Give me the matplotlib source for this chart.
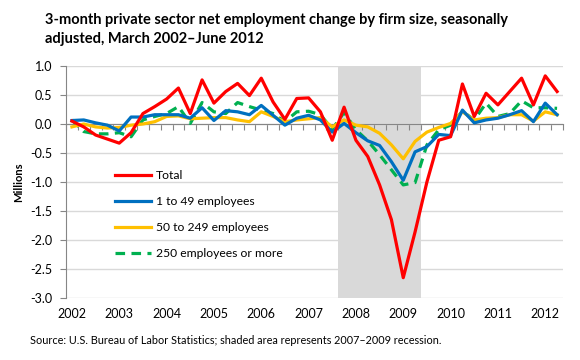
import numpy as np
import matplotlib.pyplot as plt

plt.rcParams['font.family'] = ['Lato', 'DejaVu Sans']

# Quarterly, March 2002 - June 2012 (millions)
total = [0.05, -0.05, -0.19, -0.26, -0.33, -0.15, 0.18, 0.30, 0.43, 0.62,
         0.18, 0.76, 0.36, 0.56, 0.70, 0.49, 0.79, 0.38, 0.08, 0.44,
         0.45, 0.21, -0.28, 0.29, -0.28, -0.56, -1.05, -1.65, -2.65, -1.86,
         -1.00, -0.28, -0.22, 0.69, 0.13, 0.53, 0.33, 0.56, 0.79, 0.33,
         0.83, 0.56]
small = [0.06, 0.07, 0.02, -0.02, -0.12, 0.12, 0.12, 0.16, 0.16, 0.16,
         0.10, 0.28, 0.06, 0.23, 0.21, 0.16, 0.32, 0.15, -0.02, 0.10,
         0.15, 0.07, -0.14, 0.01, -0.15, -0.29, -0.37, -0.65, -0.97, -0.48,
         -0.39, -0.18, -0.20, 0.24, 0.02, 0.07, 0.10, 0.16, 0.23, 0.04,
         0.36, 0.16]
medium = [-0.05, 0.00, -0.05, -0.07, -0.06, -0.02, 0.00, 0.04, 0.13, 0.14,
          0.09, 0.10, 0.11, 0.11, 0.07, 0.04, 0.21, 0.13, 0.04, 0.07,
          0.09, 0.11, -0.05, 0.07, -0.02, -0.05, -0.16, -0.36, -0.60, -0.30,
          -0.14, -0.06, 0.01, 0.21, 0.07, 0.10, 0.11, 0.16, 0.16, 0.05,
          0.21, 0.16]
large = [0.07, -0.13, -0.17, -0.17, -0.15, -0.22, 0.07, 0.13, 0.18, 0.30,
         0.01, 0.37, 0.21, 0.18, 0.37, 0.30, 0.24, 0.18, 0.04, 0.21,
         0.22, 0.16, -0.09, 0.20, -0.10, -0.29, -0.53, -0.79, -1.05, -1.01,
         -0.36, -0.10, -0.02, 0.22, 0.07, 0.36, 0.13, 0.18, 0.40, 0.28,
         0.28, 0.27]
years = [str(y) for y in range(2002, 2013)]
recession = (23, 29)  # quarter index, Dec 2007 - Jun 2009

x = np.arange(len(total))

fig = plt.figure(figsize=(5.8, 3.6), dpi=100)
ax = fig.add_axes([66 / 580, 1 - 298 / 360, 497 / 580, 232 / 360])

ax.axvspan(recession[0] - 0.5, recession[1] + 0.5, color='#d9d9d9', zorder=0, lw=0)
ax.plot(x, total, color='#ff0000', lw=2.3, label='Total', zorder=5)
ax.plot(x, small, color='#0070c0', lw=2.3, label='1 to 49 employees', zorder=4)
ax.plot(x, medium, color='#ffc000', lw=2.3, label='50 to 249 employees', zorder=3)
ax.plot(x, large, color='#00b050', lw=2.3, ls=(0, (3, 2)), label='250 employees or more', zorder=2)

ax.set_xlim(-0.5, len(total) - 0.5)
ax.set_ylim(-3.0, 1.0)
ax.set_yticks(np.arange(-3.0, 1.01, 0.5))
ax.set_yticklabels(['%.1f' % v for v in np.arange(-3.0, 1.01, 0.5)], fontsize=9)
ax.yaxis.grid(True, color='#d9d9d9', lw=1)
ax.set_axisbelow(True)

for s in ['top', 'right']:
    ax.spines[s].set_visible(False)
ax.spines['left'].set_color('#868686')
ax.spines['bottom'].set_position(('data', 0))
ax.spines['bottom'].set_color('#868686')
ax.spines['bottom'].set_zorder(1)
ax.set_xticks(np.arange(-0.5, len(total), 1))
ax.set_xticklabels([])
ax.tick_params(axis='x', direction='out', length=4, color='#868686')
ax.tick_params(axis='y', length=4, color='#868686', pad=6)

for k, yr in enumerate(years):
    ax.text(k * 4, -0.045, yr, transform=ax.get_xaxis_transform(),
            ha='center', va='top', fontsize=9)

ax.set_ylabel('Millions', fontsize=8, fontweight='bold', labelpad=4)

leg = ax.legend(loc='upper left', bbox_to_anchor=(49 / 497, (298 - 170) / 232),
                frameon=False, fontsize=8.7, handlelength=3.0, handletextpad=0.4,
                labelspacing=1.25, borderpad=0, borderaxespad=0)

fig.text(45 / 580, 1 - 13 / 360, '3-month private sector net employment change by firm size, seasonally\nadjusted, March 2002\u2013June 2012',
         ha='left', va='top', fontsize=10.5, fontweight='bold', linespacing=1.45)
fig.text(30 / 580, 1 - 340 / 360, 'Source: U.S. Bureau of Labor Statistics; shaded area represents 2007\u20132009 recession.',
         ha='left', va='center', fontsize=7.8)

fig.savefig('out.png', dpi=100)
